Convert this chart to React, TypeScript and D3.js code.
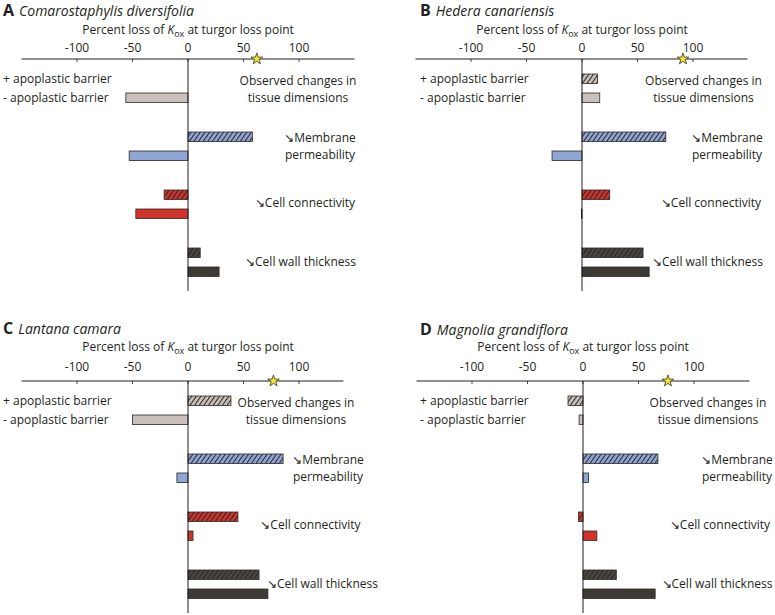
import React from "react";
import { scaleLinear, scaleBand, symbol, symbolStar } from "d3";

// chart values
const letters = ["A", "B", "C", "D"];
const species = [
  "Comarostaphylis diversifolia",
  "Hedera canariensis",
  "Lantana camara",
  "Magnolia grandiflora",
];
const categories = ["tissue", "membrane", "connectivity", "wall"];
const categoryLines = [
  ["Observed changes in", "tissue dimensions"],
  ["\u2198Membrane", "permeability"],
  ["\u2198Cell connectivity"],
  ["\u2198Cell wall thickness"],
];
// + apoplastic barrier (hatched) and - apoplastic barrier (solid), one array per panel
const withBarrier = [
  [0, 58, -21.5, 11],
  [14, 75.5, 25, 55],
  [38.7, 85.7, 45, 64],
  [-13.5, 67.5, -4, 30],
];
const withoutBarrier = [
  [-56, -53, -47, 28],
  [16, -27, -0.5, 60.5],
  [-50, -10, 4.5, 72],
  [-3.5, 5, 12.5, 65],
];
const tlpLoss = [62, 91, 77, 76.5];
const tickValues = [-100, -50, 0, 50, 100];
const barrierLabels = ["+ apoplastic barrier", "- apoplastic barrier"];

const colors = ["#c9c0bc", "#8fa5d3", "#d0322c", "#3d3935"];
const hatchColors = ["#c9c0bc", "#8fa5d3", "#d0322c", "#4a4541"];

// layout of each panel
const panels = [
  { zeroX: 188, axisY: 59, titleY: 10, axisTitleY: 30, tickY: 48, leftLabelX: 3, axisMax: 150, labelDx: [110, 132, 117, 112.5] },
  { zeroX: 582, axisY: 59, titleY: 10, axisTitleY: 30, tickY: 48, leftLabelX: 420, axisMax: 149, labelDx: [121.5, 145, 129, 125.5] },
  { zeroX: 188, axisY: 381, titleY: 328, axisTitleY: 347, tickY: 367, leftLabelX: 3, axisMax: 140, labelDx: [108, 140, 122.5, 134.5] },
  { zeroX: 583, axisY: 381, titleY: 329, axisTitleY: 347, tickY: 367, leftLabelX: 420, axisMax: 150, labelDx: [125, 154, 137, 134] },
];
const labelDy = [[22, 39], [79, 95.5], [144], [202.5]];

const font = "'Open Sans', sans-serif";
const starPath = symbol(symbolStar, 42)();

function Panel({ i }: { i: number }) {
  const p = panels[i];
  const x = scaleLinear().domain([-150, 150]).range([p.zeroX - 166.5, p.zeroX + 166.5]);
  const y = scaleBand().domain(categories).range([p.axisY + 15, p.axisY + 15 + 4 * 58]);
  const barH = 9.5;
  return (
    <g fontFamily={font} fill="#231f20">
      <text x={p.leftLabelX} y={p.titleY} dy="0.35em">
        <tspan fontWeight="bold" fontSize={16}>{letters[i]}</tspan>
        <tspan fontStyle="italic" fontSize={14} dx={5}>{species[i]}</tspan>
      </text>
      <text x={x(0)} y={p.axisTitleY} dy="0.35em" textAnchor="middle" fontSize={12}>
        Percent loss of <tspan fontStyle="italic">K</tspan>
        <tspan fontSize={9} dy={3}>ox</tspan>
        <tspan dy={-3}> at turgor loss point</tspan>
      </text>
      {tickValues.map((t) => (
        <g key={t}>
          <text x={x(t)} y={p.tickY} dy="0.35em" textAnchor="middle" fontSize={12}>{t}</text>
          <line x1={x(t)} x2={x(t)} y1={p.axisY} y2={p.axisY + 3} stroke="#231f20" strokeWidth={0.8} />
        </g>
      ))}
      <line x1={x(-150)} x2={x(p.axisMax)} y1={p.axisY} y2={p.axisY} stroke="#231f20" strokeWidth={1} />
      {barrierLabels.map((l, k) => (
        <text key={l} x={p.leftLabelX} y={p.axisY + (k === 0 ? 20 : 39)} dy="0.35em" fontSize={12}>{l}</text>
      ))}
      {categories.map((c, k) => {
        const a = withBarrier[i][k];
        const b = withoutBarrier[i][k];
        const y0 = y(c) as number;
        return (
          <g key={c}>
            <rect x={x(Math.min(0, a))} y={y0} width={Math.abs(x(a) - x(0))} height={barH}
              fill={`url(#hatch${k})`} stroke="#2b2826" strokeWidth={0.8} />
            <rect x={x(Math.min(0, b))} y={y0 + 19} width={Math.abs(x(b) - x(0))} height={barH}
              fill={colors[k]} stroke="#2b2826" strokeWidth={0.8} />
            {categoryLines[k].map((line, j) => (
              <text key={j} x={x(0) + p.labelDx[k]} y={p.axisY + labelDy[k][j]} dy="0.35em" textAnchor="middle" fontSize={12}>{line}</text>
            ))}
          </g>
        );
      })}
      <line x1={x(0)} x2={x(0)} y1={p.axisY} y2={p.axisY + 232} stroke="#231f20" strokeWidth={1} />
      <path d={starPath} transform={`translate(${x(tlpLoss[i])},${p.axisY})`} fill="#f3e43a" stroke="#3a3520" strokeWidth={0.8} />
    </g>
  );
}

export default function App() {
  return (
    <svg width={775} height={615} style={{ position: "absolute", left: 0, top: 0, background: "#fff" }}>
      <defs>
        {hatchColors.map((c, k) => (
          <pattern key={k} id={`hatch${k}`} patternUnits="userSpaceOnUse" width={3.8} height={3.8} patternTransform="rotate(35)">
            <rect width={3.8} height={3.8} fill={c} />
            <line x1={0.5} x2={0.5} y1={0} y2={3.8} stroke="#2a2624" strokeWidth={1} />
          </pattern>
        ))}
      </defs>
      {panels.map((_, i) => <Panel key={i} i={i} />)}
    </svg>
  );
}
